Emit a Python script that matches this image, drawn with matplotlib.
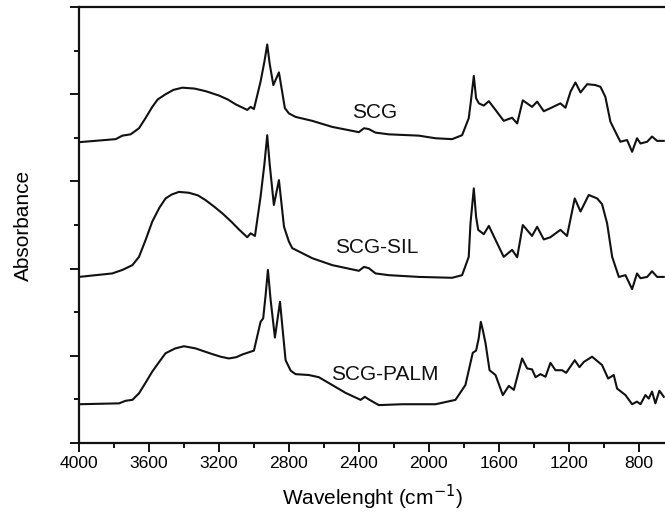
import matplotlib.pyplot as plt
from matplotlib.ticker import MultipleLocator, NullFormatter

# FTIR spectra (stacked, arbitrary absorbance units)
wn_scg = [4000, 3790, 3752, 3705, 3657, 3620, 3581, 3550, 3505, 3460, 3409, 3340, 3276, 3200,
          3150, 3105, 3038, 3019, 3000, 2962, 2940, 2924, 2910, 2889, 2857, 2823, 2800, 2762,
          2667, 2552, 2400, 2371, 2343, 2305, 2229, 2057, 1962, 1867, 1810, 1772, 1760, 1743,
          1730, 1714, 1686, 1657, 1619, 1572, 1524, 1495, 1463, 1410, 1381, 1343, 1305, 1248,
          1219, 1190, 1162, 1133, 1095, 1048, 1019, 991, 962, 924, 905, 867, 838, 810, 790, 752,
          724, 695, 657]
abs_scg = [6.90, 6.97, 7.05, 7.08, 7.22, 7.45, 7.71, 7.88, 8.00, 8.10, 8.15, 8.13, 8.07, 7.97,
           7.88, 7.77, 7.64, 7.71, 7.66, 8.29, 8.75, 9.14, 8.70, 8.21, 8.50, 7.68, 7.56, 7.48,
           7.39, 7.25, 7.13, 7.22, 7.20, 7.12, 7.08, 7.05, 6.99, 6.97, 7.06, 7.45, 7.83, 8.42,
           7.91, 7.79, 7.74, 7.84, 7.64, 7.39, 7.46, 7.33, 7.86, 7.71, 7.83, 7.61, 7.68, 7.79,
           7.69, 8.06, 8.27, 8.04, 8.23, 8.21, 8.17, 7.94, 7.37, 7.06, 6.91, 6.95, 6.68, 6.99,
           6.87, 6.91, 7.03, 6.93, 6.93]

wn_sil = [4000, 3810, 3752, 3695, 3657, 3620, 3581, 3540, 3505, 3470, 3429, 3371, 3320, 3276,
          3230, 3181, 3130, 3086, 3038, 3019, 2994, 2962, 2940, 2924, 2910, 2886, 2857, 2828,
          2800, 2781, 2667, 2552, 2400, 2371, 2343, 2305, 2229, 2057, 1867, 1810, 1772, 1762,
          1743, 1730, 1718, 1686, 1657, 1619, 1572, 1524, 1495, 1463, 1410, 1381, 1343, 1305,
          1248, 1210, 1166, 1133, 1086, 1038, 1010, 981, 952, 914, 876, 838, 810, 790, 752, 724,
          695, 657]
abs_sil = [3.81, 3.89, 3.97, 4.08, 4.27, 4.65, 5.08, 5.40, 5.61, 5.70, 5.76, 5.74, 5.68, 5.57,
           5.43, 5.27, 5.08, 4.90, 4.72, 4.81, 4.75, 5.65, 6.40, 7.06, 6.40, 5.46, 6.03, 4.96,
           4.62, 4.47, 4.24, 4.08, 3.95, 4.04, 4.01, 3.89, 3.85, 3.81, 3.79, 3.85, 4.27, 5.04,
           5.84, 5.19, 4.89, 4.79, 4.98, 4.66, 4.27, 4.43, 4.26, 5.00, 4.75, 4.96, 4.67, 4.72,
           4.89, 4.75, 5.61, 5.31, 5.69, 5.61, 5.48, 5.04, 4.27, 3.81, 3.85, 3.53, 3.89, 3.78,
           3.81, 3.94, 3.81, 3.81]

wn_palm = [4000, 3771, 3733, 3695, 3657, 3620, 3581, 3540, 3505, 3450, 3400, 3333, 3290, 3238,
           3190, 3143, 3100, 3067, 3000, 2962, 2947, 2933, 2920, 2905, 2880, 2851, 2819, 2790,
           2762, 2686, 2629, 2552, 2476, 2390, 2366, 2343, 2286, 2152, 1962, 1848, 1791, 1749,
           1730, 1715, 1703, 1692, 1676, 1653, 1619, 1577, 1543, 1514, 1467, 1438, 1410, 1390,
           1362, 1333, 1305, 1276, 1238, 1215, 1166, 1139, 1114, 1067, 1010, 975, 943, 924, 876,
           838, 810, 790, 762, 743, 724, 705, 682, 657]
abs_palm = [0.89, 0.91, 0.97, 0.99, 1.14, 1.38, 1.64, 1.87, 2.06, 2.17, 2.22, 2.17, 2.11, 2.04,
            1.98, 1.94, 1.97, 2.03, 2.12, 2.78, 2.86, 3.40, 3.97, 3.30, 2.42, 3.24, 1.90, 1.66,
            1.58, 1.56, 1.51, 1.33, 1.15, 0.99, 1.06, 1.00, 0.87, 0.89, 0.89, 0.99, 1.33, 2.07,
            2.12, 2.40, 2.78, 2.60, 2.29, 1.67, 1.56, 1.10, 1.31, 1.22, 1.94, 1.71, 1.69, 1.51,
            1.58, 1.52, 1.84, 1.67, 1.67, 1.61, 1.90, 1.74, 1.86, 1.98, 1.79, 1.48, 1.56, 1.25,
            1.10, 0.89, 0.95, 0.89, 1.10, 1.02, 1.18, 0.91, 1.20, 1.06]

labels = ['SCG', 'SCG-SIL', 'SCG-PALM']
label_pos = [(2310, 7.58), (2300, 4.48), (2250, 1.58)]

plt.rcParams['font.family'] = ['Liberation Sans', 'DejaVu Sans']

fig = plt.figure(figsize=(6.65, 5.2), dpi=100)
ax = fig.add_axes([0.1188, 0.148, 0.8812, 0.8385])

for wn, ab in [(wn_scg, abs_scg), (wn_sil, abs_sil), (wn_palm, abs_palm)]:
    ax.plot(wn, ab, color='#111111', linewidth=1.5, solid_joinstyle='round')

for txt, (x, y) in zip(labels, label_pos):
    ax.text(x, y, txt, fontsize=15, ha='center', va='center', color='#111111')

ax.set_xlim(4000, 650)
ax.set_ylim(0, 10)
ax.xaxis.set_major_locator(MultipleLocator(400))
ax.xaxis.set_minor_locator(MultipleLocator(200))
ax.yaxis.set_major_locator(MultipleLocator(2))
ax.yaxis.set_minor_locator(MultipleLocator(1))
ax.yaxis.set_major_formatter(NullFormatter())

ax.spines['right'].set_visible(False)
for s in ['left', 'bottom', 'top']:
    ax.spines[s].set_linewidth(1.6)
    ax.spines[s].set_color('#111111')

ax.tick_params(which='major', direction='out', length=6.5, width=1.3, labelsize=12.6, pad=3)
ax.tick_params(which='minor', direction='out', length=3.5, width=1.3)
ax.tick_params(top=False, right=False, which='both')

ax.set_xlabel('Wavelenght (cm$^{-1}$)', fontsize=15, labelpad=8)
ax.set_ylabel('Absorbance', fontsize=15, labelpad=24)

fig.savefig('out.png', dpi=100, facecolor='white')
